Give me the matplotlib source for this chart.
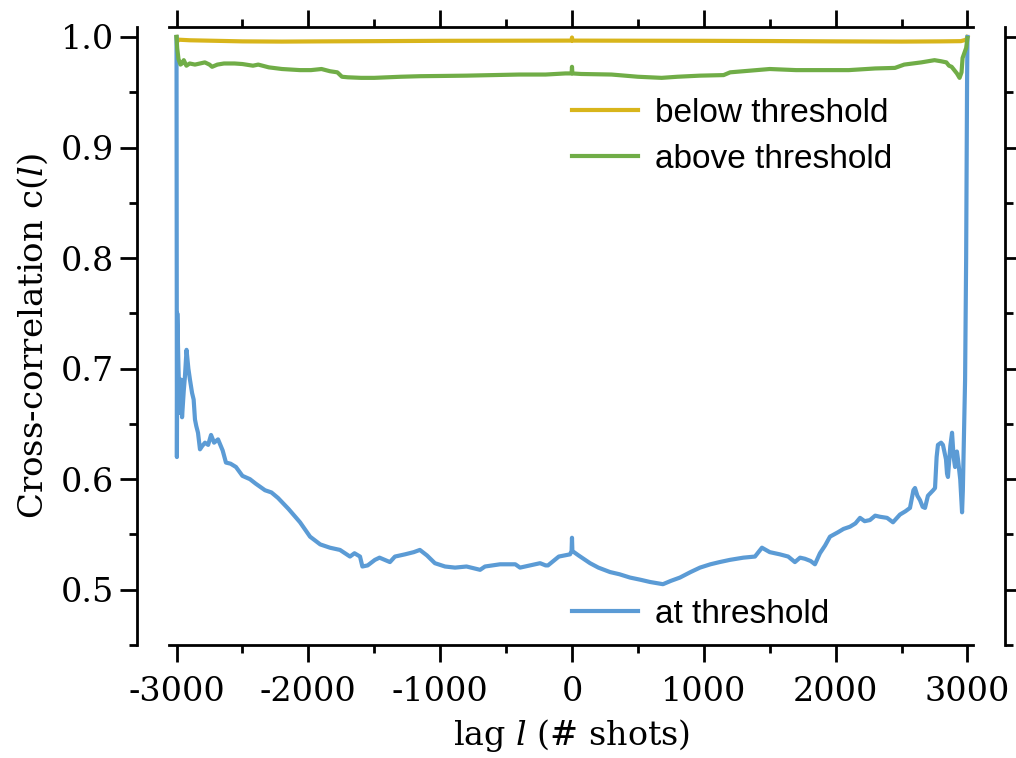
import matplotlib
matplotlib.use("Agg")
import matplotlib.pyplot as plt
from matplotlib.ticker import MultipleLocator

# cross-correlation vs lag
lag_at = [-3000, -2997, -2994, -2985, -2975, -2965, -2958, -2945, -2936, -2924,
          -2910, -2898, -2882, -2870, -2860, -2850, -2837, -2822, -2805, -2784,
          -2760, -2738, -2715, -2685, -2650, -2625, -2590, -2549, -2500, -2443,
          -2400, -2329, -2280, -2230, -2150, -2063, -1987, -1910, -1836, -1760,
          -1684, -1650, -1608, -1590, -1550, -1495, -1460, -1381, -1343, -1267,
          -1200, -1154, -1100, -1040, -963, -887, -800, -697, -660, -546,
          -430, -394, -242, -200, -182, -100, -15, -3, 0, 3,
          50, 137, 200, 288, 360, 440, 520, 592, 640, 690,
          750, 819, 900, 971, 1050, 1120, 1198, 1300, 1388, 1441,
          1500, 1577, 1640, 1691, 1730, 1767, 1810, 1843, 1881, 1920,
          1957, 2018, 2060, 2109, 2150, 2185, 2220, 2260, 2300, 2336,
          2390, 2435, 2488, 2530, 2564, 2590, 2602, 2620, 2640, 2660,
          2678, 2700, 2716, 2740, 2754, 2766, 2776, 2800, 2814, 2837,
          2845, 2852, 2870, 2883, 2895, 2906, 2920, 2928, 2945, 2959,
          2965, 2975, 2982, 2990, 2997, 3000]
c_at = [1.000, 0.620, 0.750, 0.700, 0.660, 0.690, 0.656, 0.680, 0.693, 0.717,
        0.700, 0.690, 0.678, 0.672, 0.654, 0.648, 0.642, 0.627, 0.630, 0.633,
        0.631, 0.640, 0.633, 0.636, 0.626, 0.615, 0.614, 0.611, 0.603, 0.600,
        0.596, 0.590, 0.588, 0.583, 0.573, 0.561, 0.548, 0.541, 0.538, 0.536,
        0.530, 0.533, 0.530, 0.521, 0.522, 0.527, 0.529, 0.525, 0.530, 0.532,
        0.534, 0.536, 0.531, 0.524, 0.521, 0.520, 0.521, 0.518, 0.521, 0.523,
        0.523, 0.520, 0.524, 0.522, 0.522, 0.530, 0.532, 0.535, 0.547, 0.535,
        0.531, 0.524, 0.520, 0.516, 0.514, 0.511, 0.509, 0.507, 0.506, 0.505,
        0.508, 0.511, 0.516, 0.520, 0.523, 0.525, 0.527, 0.529, 0.530, 0.538,
        0.534, 0.532, 0.530, 0.525, 0.529, 0.528, 0.526, 0.523, 0.533, 0.540,
        0.548, 0.552, 0.555, 0.557, 0.560, 0.565, 0.562, 0.563, 0.567, 0.566,
        0.565, 0.561, 0.568, 0.571, 0.574, 0.590, 0.592, 0.585, 0.581, 0.575,
        0.574, 0.585, 0.587, 0.590, 0.592, 0.620, 0.631, 0.633, 0.631, 0.618,
        0.605, 0.602, 0.630, 0.642, 0.620, 0.611, 0.625, 0.618, 0.600, 0.570,
        0.590, 0.650, 0.690, 0.800, 0.960, 1.000]

lag_above = [-3000, -2995, -2985, -2970, -2958, -2945, -2925, -2900, -2860, -2822,
             -2785, -2750, -2730, -2690, -2640, -2560, -2500, -2420, -2380, -2300,
             -2200, -2063, -1980, -1900, -1836, -1780, -1745, -1700, -1600, -1500,
             -1400, -1300, -1150, -1000, -800, -600, -400, -200, -50, -3,
             0, 3, 70, 300, 500, 680, 800, 971, 1150, 1200,
             1300, 1500, 1700, 1900, 2100, 2300, 2450, 2520, 2650, 2750,
             2800, 2840, 2860, 2880, 2920, 2940, 2955, 2963, 2975, 2990, 3000]
c_above = [1.000, 0.990, 0.980, 0.975, 0.976, 0.979, 0.974, 0.976, 0.975, 0.976,
           0.977, 0.975, 0.973, 0.975, 0.976, 0.976, 0.9755, 0.974, 0.975, 0.9725,
           0.971, 0.970, 0.970, 0.971, 0.969, 0.968, 0.964, 0.9635, 0.963, 0.963,
           0.9635, 0.964, 0.9645, 0.9647, 0.965, 0.9655, 0.966, 0.966, 0.967, 0.967,
           0.973, 0.967, 0.9665, 0.966, 0.964, 0.963, 0.964, 0.965, 0.9655, 0.968,
           0.969, 0.971, 0.970, 0.970, 0.970, 0.9715, 0.972, 0.975, 0.977, 0.979,
           0.978, 0.977, 0.974, 0.973, 0.967, 0.963, 0.968, 0.981, 0.985, 0.990, 0.999]

lag_below = [-3000, -2995, -2980, -2900, -2700, -2500, -2200, -1900, -1500, -1000,
             -500, -3, 0, 3, 500, 1000, 1500, 2000, 2500, 2800, 2950, 2990, 3000]
c_below = [1.000, 0.996, 0.9975, 0.997, 0.9965, 0.996, 0.9958, 0.996, 0.9962, 0.9965,
           0.9966, 0.9967, 0.9995, 0.9967, 0.9966, 0.9965, 0.9963, 0.996, 0.9958, 0.996,
           0.9962, 0.9975, 1.000]

plt.rcParams['font.family'] = 'DejaVu Serif'
plt.rcParams['mathtext.fontset'] = 'dejavuserif'
plt.rcParams['axes.unicode_minus'] = False

fig = plt.figure(figsize=(10.16, 7.58), dpi=100)
ax = fig.add_axes([169 / 1016, 113 / 758, 804 / 1016, 618 / 758])

h_below, = ax.plot(lag_below, c_below, color='#D8B51B', lw=3)
h_at, = ax.plot(lag_at, c_at, color='#5B9BD5', lw=3)
h_above, = ax.plot(lag_above, c_above, color='#70AD47', lw=3)

ax.set_xlim(-3057, 3042)
ax.set_ylim(0.450, 1.009)
ax.xaxis.set_major_locator(MultipleLocator(1000))
ax.xaxis.set_minor_locator(MultipleLocator(500))
ax.yaxis.set_major_locator(MultipleLocator(0.1))
ax.yaxis.set_minor_locator(MultipleLocator(0.05))

for s in ax.spines.values():
    s.set_linewidth(2)
ax.spines['left'].set_position(('outward', 23))
ax.spines['right'].set_position(('outward', 23))

ax.tick_params(which='both', direction='out', top=True, right=True, width=2,
               labelsize=24)
ax.tick_params(which='major', length=12.5)
ax.tick_params(axis='x', which='major', pad=10)
ax.tick_params(axis='y', which='major', pad=4)
ax.tick_params(which='minor', length=5.5)

ax.set_xlabel(r'lag $l$ (# shots)', fontsize=24, labelpad=6)
ax.set_ylabel(r'Cross-correlation c($l$)', fontsize=24.5, labelpad=8)

legfont = {'family': 'Liberation Sans', 'size': 24}
leg1 = ax.legend([h_below, h_above], ['below threshold', 'above threshold'],
                 loc='upper left', bbox_to_anchor=(0.501, 0.885), frameon=False,
                 prop=legfont, handlelength=2.0, handletextpad=0.5,
                 borderpad=0, borderaxespad=0, labelspacing=0.45)
ax.add_artist(leg1)
ax.legend([h_at], ['at threshold'], loc='upper left',
          bbox_to_anchor=(0.501, 0.075), frameon=False, prop=legfont,
          handlelength=2.0, handletextpad=0.5, borderpad=0, borderaxespad=0)

fig.savefig('out.png', dpi=100)
